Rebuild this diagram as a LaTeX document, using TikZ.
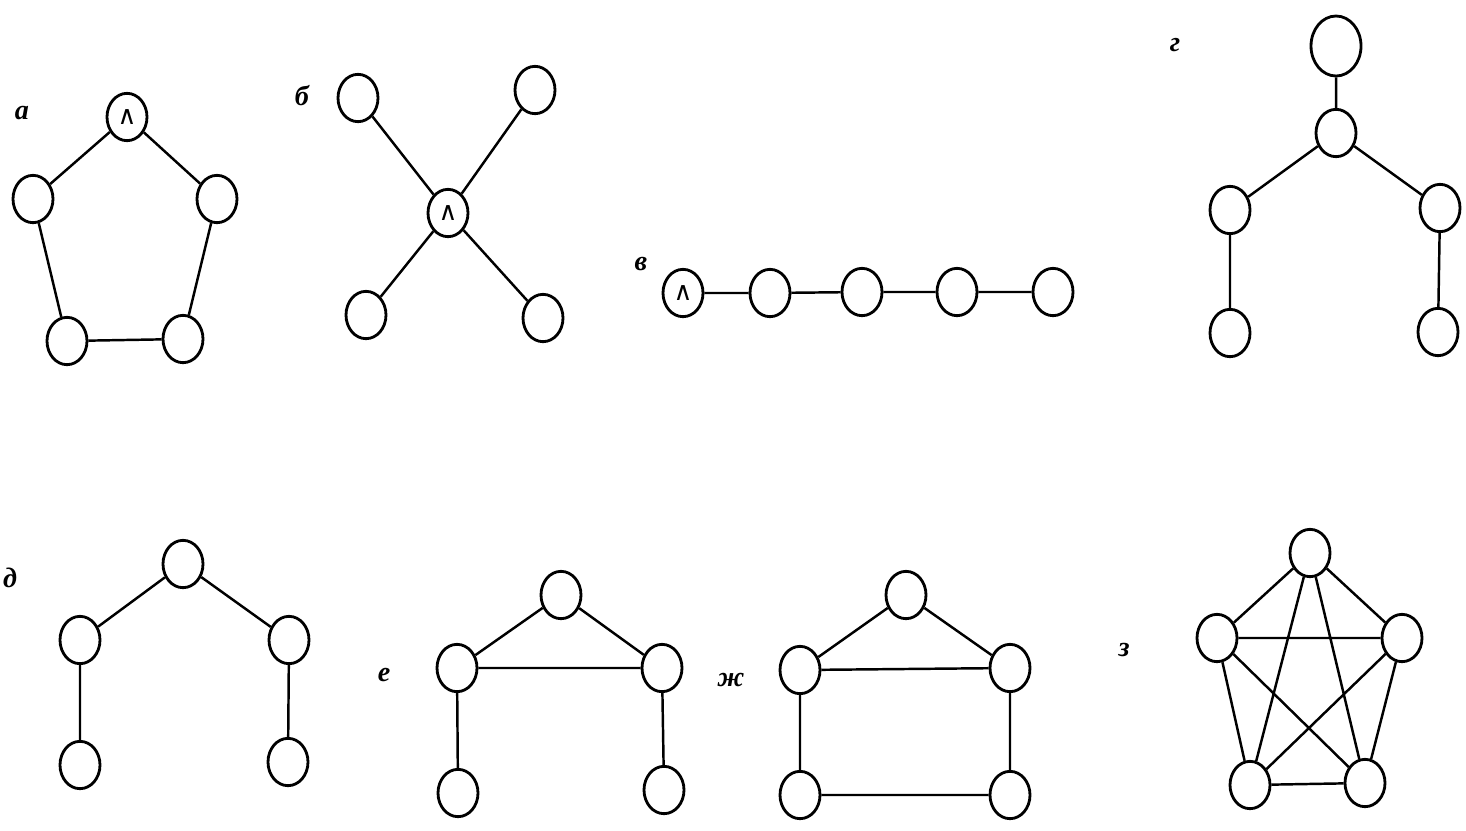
\documentclass[tikz,border=0pt]{standalone}
\usepackage{fontspec}
\setmainfont{Liberation Serif}
\newfontfamily\wedgefont{DejaVu Sans}
\usepackage{tikz}
\usetikzlibrary{shapes.geometric}
\tikzset{
  vert/.style  ={ellipse,draw=black,line width=2.4pt,fill=white,inner sep=0pt,
                 minimum width=1.2cm,minimum height=1.42cm},
  bigvert/.style={vert,minimum width=1.5cm,minimum height=1.8cm},
  rootvert/.style={vert,font=\wedgefont\fontsize{22}{22}\selectfont},
  link/.style  ={line width=2.1pt,draw=black},
  tag/.style   ={font=\fontsize{24}{26}\selectfont\bfseries\itshape}
}
\begin{document}
\begin{tikzpicture}[x=0.03cm,y=-0.03cm]
  \useasboundingbox (0,0) rectangle (1466,830);
  % a: cycle
  \node[tag] (ta) at (22,113) {а};
  \node[rootvert] (a1) at (127,117) {∧};
  \node[vert] (a2) at (33,199) {};
  \node[vert] (a3) at (217,199) {};
  \node[vert] (a4) at (67,341) {};
  \node[vert] (a5) at (183,339) {};
  \draw[link] (a1) -- (a2) (a1) -- (a3) (a2) -- (a4) (a3) -- (a5) (a4) -- (a5);
  % b: star
  \node[tag] (tb) at (302,96) {б};
  \node[rootvert] (b0) at (448,213) {∧};
  \node[vert] (b1) at (358,98) {};
  \node[vert] (b2) at (535,90) {};
  \node[vert] (b3) at (366,315) {};
  \node[vert] (b4) at (543,318) {};
  \draw[link] (b0) -- (b1) (b0) -- (b2) (b0) -- (b3) (b0) -- (b4);
  % v: chain
  \node[tag] (tv) at (641,264) {в};
  \node[rootvert] (v1) at (683,293) {∧};
  \node[vert] (v2) at (770,293) {};
  \node[vert] (v3) at (862,292) {};
  \node[vert] (v4) at (957,292) {};
  \node[vert] (v5) at (1053,292) {};
  \draw[link] (v1) -- (v2) -- (v3) -- (v4) -- (v5);
  % g: tree
  \node[tag] (tg) at (1175,45) {г};
  \node[bigvert] (g1) at (1336,46) {};
  \node[vert] (g2) at (1336,133) {};
  \node[vert] (g3) at (1230,210) {};
  \node[vert] (g4) at (1440,208) {};
  \node[vert] (g5) at (1230,333) {};
  \node[vert] (g6) at (1438,332) {};
  \draw[link] (g1) -- (g2) (g2) -- (g3) (g2) -- (g4) (g3) -- (g5) (g4) -- (g6);
  % d: tree
  \node[tag] (td) at (10,578) {д};
  \node[vert] (d1) at (183,564) {};
  \node[vert] (d2) at (80,640) {};
  \node[vert] (d3) at (289,640) {};
  \node[vert] (d4) at (80,765) {};
  \node[vert] (d5) at (288,762) {};
  \draw[link] (d1) -- (d2) (d1) -- (d3) (d2) -- (d4) (d3) -- (d5);
  % e: triangle with legs
  \node[tag] (te) at (384,675) {е};
  \node[vert] (e1) at (561,595) {};
  \node[vert] (e2) at (457,668) {};
  \node[vert] (e3) at (662,668) {};
  \node[vert] (e4) at (458,793) {};
  \node[vert] (e5) at (664,790) {};
  \draw[link] (e1) -- (e2) (e1) -- (e3) (e2) -- (e3) (e2) -- (e4) (e3) -- (e5);
  % zh: house
  \node[tag] (tz) at (731,680) {ж};
  \node[vert] (z1) at (906,595) {};
  \node[vert] (z2) at (800,670) {};
  \node[vert] (z3) at (1010,668) {};
  \node[vert] (z4) at (800,795) {};
  \node[vert] (z5) at (1010,795) {};
  \draw[link] (z1) -- (z2) (z1) -- (z3) (z2) -- (z3) (z2) -- (z4) (z3) -- (z5)
              (z4) -- (z5);
  % z: complete graph
  \node[tag] (tk) at (1124,650) {з};
  \node[vert] (k1) at (1310,553) {};
  \node[vert] (k2) at (1217,638) {};
  \node[vert] (k3) at (1402,638) {};
  \node[vert] (k4) at (1250,785) {};
  \node[vert] (k5) at (1365,783) {};
  \draw[link] (k1) -- (k2) (k1) -- (k3) (k1) -- (k4) (k1) -- (k5)
              (k2) -- (k3) (k2) -- (k4) (k2) -- (k5)
              (k3) -- (k4) (k3) -- (k5) (k4) -- (k5);
\end{tikzpicture}
\end{document}
